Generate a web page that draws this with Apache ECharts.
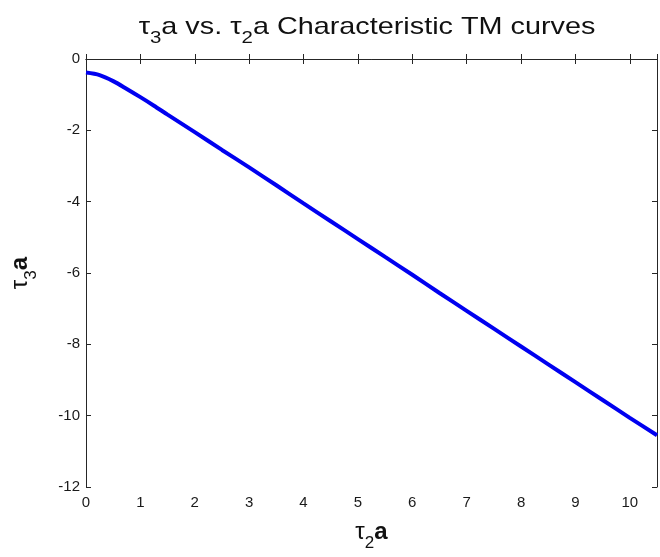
<!DOCTYPE html>
<html>
<head>
<meta charset="utf-8">
<script src="https://cdn.jsdelivr.net/npm/echarts@6/dist/echarts.min.js"></script>
<style>html,body{margin:0;padding:0;background:#fff;}#c{width:660px;height:557px;}</style>
</head>
<body>
<div id="c"></div>
<script>
// tau2*a values (x)
const tau2a = [0, 0.25, 0.5, 0.75, 1, 1.25, 1.5, 2, 2.5, 3, 3.5, 4, 4.5, 5, 5.5, 6, 6.5, 7, 7.5, 8, 8.5, 9, 9.5, 10, 10.5];
// tau3*a values (y)
const tau3a = [-0.38, -0.45, -0.62, -0.84, -1.07, -1.31, -1.56, -2.05, -2.55, -3.04, -3.54, -4.05, -4.55, -5.05, -5.55, -6.05, -6.56, -7.06, -7.56, -8.06, -8.56, -9.06, -9.56, -10.06, -10.55];
const xTicks = [0, 1, 2, 3, 4, 5, 6, 7, 8, 9, 10];
const yTicks = [0, -2, -4, -6, -8, -10, -12];
const titleText = '{t|τ}{s|3}{t|a vs. τ}{s|2}{t|a Characteristic TM curves}';

const chart = echarts.init(document.getElementById('c'), null, {renderer: 'canvas'});
const font = '"Liberation Sans", Arial, sans-serif';
const axisCol = '#262626';
const tickLabel = {color: '#1a1a1a', fontFamily: font, fontSize: 15};

function labelRich(size, subSize, lastBold) {
  return {
    t: {fontFamily: font, fontSize: size, fontWeight: 'normal', fill: '#111', color: '#111', verticalAlign: 'top', lineHeight: size + 8},
    s: {fontFamily: font, fontSize: subSize, fontWeight: 'normal', fill: '#111', color: '#111', verticalAlign: 'bottom', lineHeight: size + 8},
    b: {fontFamily: font, fontSize: size, fontWeight: lastBold ? 'bold' : 'normal', fill: '#111', color: '#111', verticalAlign: 'top', lineHeight: size + 8}
  };
}

chart.setOption({
  animation: false,
  backgroundColor: '#ffffff',
  graphic: [{
    type: 'text',
    x: 367, y: 15,
    scaleX: 1.2,
    style: {
      text: titleText,
      textAlign: 'center',
      align: 'center',
      textVerticalAlign: 'top',
      verticalAlign: 'top',
      fill: '#111',
      rich: labelRich(24, 17, false)
    }
  }],
  grid: {left: 81, right: 1, top: 59, bottom: 66, containLabel: false},
  xAxis: [{
    type: 'value', min: 0, max: 10.5, interval: 1, position: 'bottom',
    name: '{t|τ}{s|2}{b|a}', nameLocation: 'middle', nameGap: 33,
    nameTextStyle: {rich: labelRich(24, 17, true)},
    axisLine: {show: true, lineStyle: {color: axisCol, width: 1}},
    axisTick: {show: true, inside: true, length: 5, lineStyle: {color: axisCol}},
    axisLabel: Object.assign({margin: 8, formatter: v => xTicks.includes(v) ? String(v) : ''}, tickLabel),
    splitLine: {show: false}
  }, {
    type: 'value', min: 0, max: 10.5, interval: 1, position: 'top',
    axisLine: {show: true, onZero: false, lineStyle: {color: axisCol, width: 1}},
    axisTick: {show: true, inside: true, length: 5, lineStyle: {color: axisCol}},
    axisLabel: {show: false}, splitLine: {show: false}
  }],
  yAxis: [{
    type: 'value', min: -12, max: 0, interval: 2, position: 'left',
    name: '{t|τ}{s|3}{b|a}', nameLocation: 'middle', nameGap: 46,
    nameTextStyle: {rich: labelRich(24, 17, true)},
    axisLine: {show: true, onZero: false, lineStyle: {color: axisCol, width: 1}},
    axisTick: {show: true, inside: true, length: 5, lineStyle: {color: axisCol}},
    axisLabel: Object.assign({margin: 6, formatter: v => yTicks.includes(v) ? String(v) : ''}, tickLabel),
    splitLine: {show: false}
  }, {
    type: 'value', min: -12, max: 0, interval: 2, position: 'right',
    axisLine: {show: true, onZero: false, lineStyle: {color: axisCol, width: 1}},
    axisTick: {show: true, inside: true, length: 5, lineStyle: {color: axisCol}},
    axisLabel: {show: false}, splitLine: {show: false}
  }],
  series: [{
    type: 'line',
    data: tau2a.map((x, i) => [x, tau3a[i]]),
    showSymbol: false, symbol: 'none', smooth: 0.3,
    lineStyle: {color: '#0000f0', width: 4},
    clip: true
  }]
});
</script>
</body>
</html>
